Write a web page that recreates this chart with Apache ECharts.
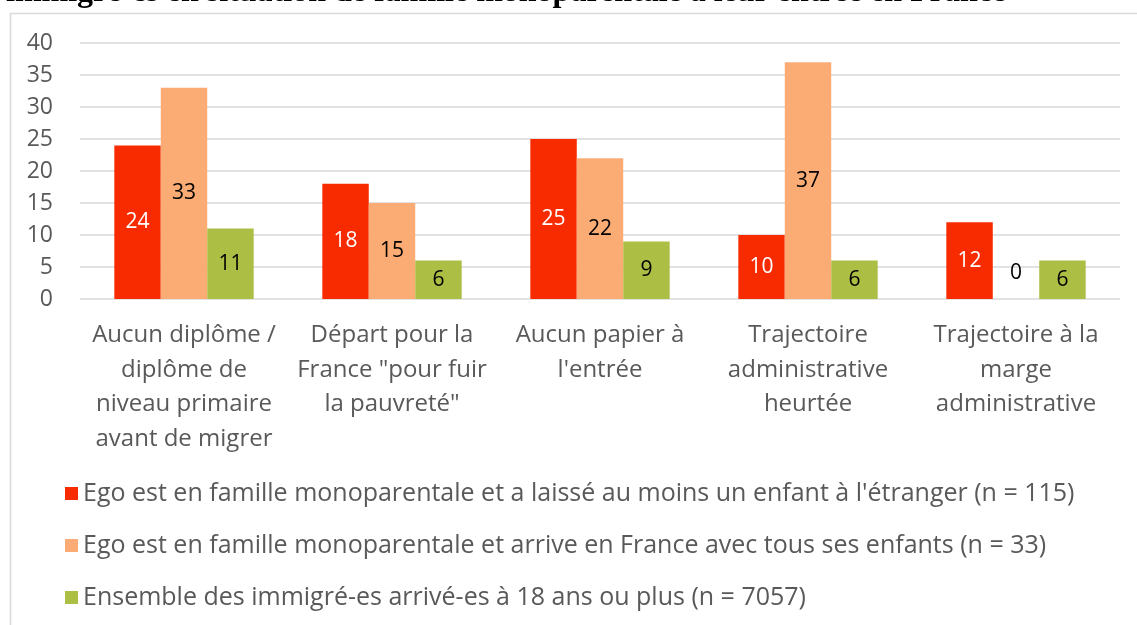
<!DOCTYPE html>
<html>
<head>
<meta charset="utf-8">
<script src="https://cdn.jsdelivr.net/npm/echarts@6/dist/echarts.min.js"></script>
<style>
  html, body { margin: 0; padding: 0; background: #fff; }
  #chart { width: 1137px; height: 625px; }
</style>
</head>
<body>
<div id="chart"></div>
<script>
// categories (x axis)
var categories = [
  'Aucun diplôme /\ndiplôme de\nniveau primaire\navant de migrer',
  'Départ pour la\nFrance "pour fuir\nla pauvreté"',
  'Aucun papier à\nl\'entrée',
  'Trajectoire\nadministrative\nheurtée',
  'Trajectoire à la\nmarge\nadministrative'
];
var seriesNames = [
  "Ego est en famille monoparentale et a laissé au moins un enfant à l'étranger (n = 115)",
  'Ego est en famille monoparentale et arrive en France avec tous ses enfants (n = 33)',
  'Ensemble des immigré-es arrivé-es à 18 ans ou plus (n = 7057)'
];
var laisseEnfant = [24, 18, 25, 10, 12];
var tousEnfants = [33, 15, 22, 37, 0];
var ensemble = [11, 6, 9, 6, 6];
var yTicks = { min: 0, max: 40, interval: 5 };

var titleText = 'immigré-es en situation de famille monoparentale à leur entrée en France';
var txtFont = '"Open Sans", sans-serif';

var chart = echarts.init(document.getElementById('chart'));

function mkSeries(name, data, color, labelColor) {
  return {
    name: name,
    type: 'bar',
    data: data.map(function (v) {
      // la valeur nulle est affichée un peu au-dessus de l'axe
      if (v === 0) return { value: v, label: { offset: [0, -26] } };
      return v;
    }),
    barGap: '0%',
    barCategoryGap: '33%',
    itemStyle: { color: color },
    label: {
      show: true,
      position: 'inside',
      color: labelColor,
      fontFamily: txtFont,
      fontSize: 21
    }
  };
}

chart.setOption({
  animation: false,
  textStyle: { fontFamily: txtFont },
  graphic: [
    {
      type: 'rect',
      shape: { x: 10.5, y: 13.5, width: 1200, height: 700 },
      style: { fill: 'none', stroke: '#d9d9d9', lineWidth: 1.5 },
      silent: true
    },
    {
      type: 'text',
      style: {
        x: 6,
        y: 9,
        verticalAlign: 'bottom',
        text: titleText,
        font: 'bold 32px "Liberation Serif", "DejaVu Serif", serif',
        fill: '#000'
      }
    }
  ],
  grid: { left: 80, right: 17, top: 43, bottom: 326, containLabel: false },
  legend: {
    orient: 'vertical',
    left: 60,
    top: 476,
    itemWidth: 13,
    itemHeight: 13,
    itemGap: 27,
    icon: 'rect',
    textStyle: { color: '#595959', fontSize: 25, fontFamily: txtFont },
    data: seriesNames
  },
  xAxis: {
    type: 'category',
    data: categories,
    axisLine: { show: false },
    axisTick: { show: false },
    axisLabel: {
      color: '#595959',
      fontSize: 24,
      lineHeight: 34.5,
      margin: 19,
      interval: 0,
      fontFamily: txtFont
    }
  },
  yAxis: {
    type: 'value',
    min: yTicks.min,
    max: yTicks.max,
    interval: yTicks.interval,
    axisLine: { show: false },
    axisTick: { show: false },
    axisLabel: { color: '#595959', fontSize: 23, margin: 27, fontFamily: txtFont },
    splitLine: { lineStyle: { color: '#d9d9d9', width: 1.5 } }
  },
  series: [
    mkSeries(seriesNames[0], laisseEnfant, '#f72a00', '#ffffff'),
    mkSeries(seriesNames[1], tousEnfants, '#fbac74', '#000000'),
    mkSeries(seriesNames[2], ensemble, '#adbe45', '#000000')
  ]
});
</script>
</body>
</html>
